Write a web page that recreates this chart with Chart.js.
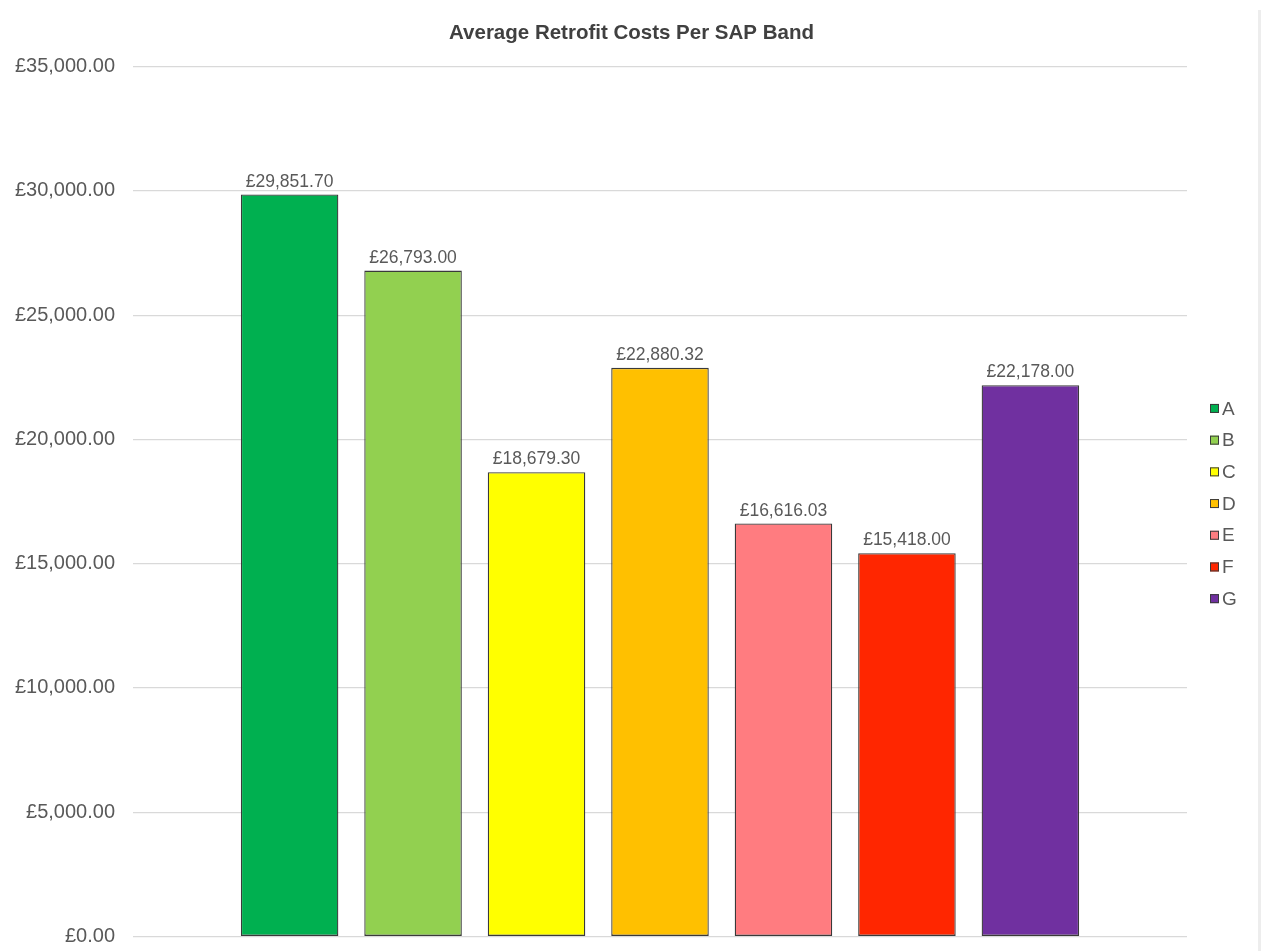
<!DOCTYPE html>
<html>
<head>
<meta charset="utf-8">
<title>Average Retrofit Costs Per SAP Band</title>
<script src="https://cdn.jsdelivr.net/npm/chart.js@4/dist/chart.umd.min.js"></script>
<style>
  html, body { margin: 0; padding: 0; background: #ffffff; }
  #wrap { position: relative; width: 1263px; height: 951px; }
  #edge { position: absolute; left: 1258px; top: 10px; width: 3px; height: 941px; background: #ededed; }
</style>
</head>
<body>
<div id="wrap">
  <canvas id="chart" width="1263" height="951"></canvas>
  <div id="edge"></div>
</div>
<script>
// SAP bands and their average retrofit cost (GBP)
const bands = ['A', 'B', 'C', 'D', 'E', 'F', 'G'];
const avgCost = [29851.70, 26793.00, 18679.30, 22880.32, 16616.03, 15418.00, 22178.00];
const bandColours = ['#00B050', '#92D050', '#FFFF00', '#FFC000', '#FF7C80', '#FF2600', '#7030A0'];
const yTicks = [0, 5000, 10000, 15000, 20000, 25000, 30000, 35000];

const FONT = '"Liberation Sans", Arial, Helvetica, sans-serif';
const gbp = v => '£' + Number(v).toLocaleString('en-GB', { minimumFractionDigits: 2, maximumFractionDigits: 2 });

// one series per band, all sharing a single category
const datasets = bands.map((b, i) => ({
  label: b,
  data: [avgCost[i]],
  backgroundColor: bandColours[i],
  borderColor: '#3a3a3a',
  borderWidth: 1.3,
  borderSkipped: false,
  categoryPercentage: 0.82,
  barPercentage: 0.79
}));

// value labels above each bar
const valueLabels = {
  id: 'valueLabels',
  afterDatasetsDraw(chart) {
    const ctx = chart.ctx;
    ctx.save();
    ctx.font = '17.5px ' + FONT;
    ctx.fillStyle = '#595959';
    ctx.textAlign = 'center';
    ctx.textBaseline = 'alphabetic';
    chart.data.datasets.forEach((ds, i) => {
      const meta = chart.getDatasetMeta(i);
      meta.data.forEach((bar, j) => {
        ctx.fillText(gbp(ds.data[j]), bar.x, bar.y - 8);
      });
    });
    ctx.restore();
  }
};

// compact legend to the right of the plot: small boxes with tight labels
const sideLegend = {
  id: 'sideLegend',
  afterDraw(chart) {
    const ctx = chart.ctx;
    const area = chart.chartArea;
    const step = 31.7;
    const box = 9;
    const x0 = area.right + 23;
    const yMid = (area.top + area.bottom) / 2 + 2;
    const y0 = yMid - step * (bands.length - 1) / 2;
    ctx.save();
    ctx.font = '19px ' + FONT;
    ctx.textBaseline = 'middle';
    ctx.textAlign = 'left';
    bands.forEach((b, i) => {
      const y = y0 + i * step;
      ctx.fillStyle = bandColours[i];
      ctx.fillRect(x0, y - box / 2, box, box);
      ctx.strokeStyle = '#3a3a3a';
      ctx.lineWidth = 1;
      ctx.strokeRect(x0 + 0.5, y - box / 2 + 0.5, box - 1, box - 1);
      ctx.fillStyle = '#595959';
      ctx.fillText(b, x0 + box + 3, y + 1);
    });
    ctx.restore();
  }
};

new Chart(document.getElementById('chart'), {
  type: 'bar',
  data: { labels: [''], datasets },
  options: {
    responsive: false,
    animation: false,
    layout: { padding: { left: 0, right: 0, top: 0, bottom: 14.5 } },
    plugins: {
      title: {
        display: true,
        text: 'Average Retrofit Costs Per SAP Band',
        color: '#404040',
        font: { family: FONT, size: 20.5, weight: 'bold' },
        padding: { top: 21, bottom: 21 }
      },
      legend: { display: false },
      tooltip: { enabled: false }
    },
    scales: {
      x: {
        display: false,
        grid: { display: false }
      },
      y: {
        min: 0,
        max: 35000,
        afterBuildTicks(scale) { scale.ticks = yTicks.map(v => ({ value: v })); },
        afterFit(scale) { scale.width = 133; scale.paddingBottom = 0; },
        border: { display: false },
        grid: { color: '#d9d9d9', lineWidth: 1.2, drawTicks: false },
        ticks: {
          color: '#595959',
          font: { family: FONT, size: 20 },
          padding: 18,
          callback: v => gbp(v)
        }
      },
      // empty right-hand axis that reserves room for the legend column
      legendSpace: {
        type: 'linear',
        position: 'right',
        display: true,
        afterFit(scale) { scale.width = 76; scale.paddingBottom = 0; scale.paddingTop = 0; },
        border: { display: false },
        grid: { display: false, drawTicks: false },
        ticks: { display: false }
      }
    }
  },
  plugins: [valueLabels, sideLegend]
});
</script>
</body>
</html>
